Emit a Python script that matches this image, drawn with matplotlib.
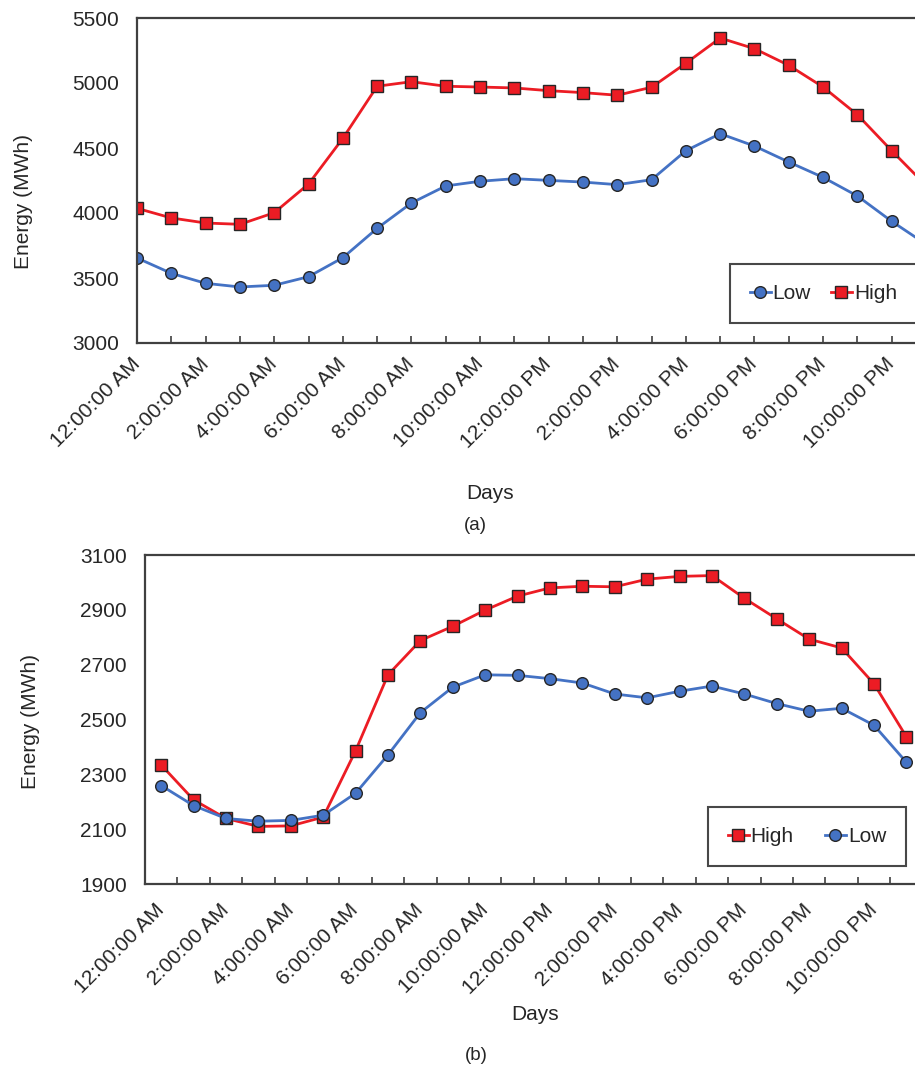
import matplotlib
matplotlib.use("Agg")
import matplotlib.pyplot as plt

plt.rcParams['font.family'] = ['Liberation Sans', 'DejaVu Sans']

# hourly energy, one day
hours = list(range(24))
hour_labels = ['12:00:00 AM', '2:00:00 AM', '4:00:00 AM', '6:00:00 AM',
               '8:00:00 AM', '10:00:00 AM', '12:00:00 PM', '2:00:00 PM',
               '4:00:00 PM', '6:00:00 PM', '8:00:00 PM', '10:00:00 PM']

a_low = [3654, 3536, 3459, 3431, 3444, 3510, 3656, 3882, 4077, 4208,
         4244, 4264, 4251, 4238, 4218, 4256, 4479, 4610, 4515, 4392,
         4274, 4131, 3936, 3760]
a_high = [4036, 3962, 3923, 3913, 4002, 4223, 4574, 4975, 5010, 4975,
          4969, 4962, 4941, 4926, 4906, 4967, 5152, 5346, 5264, 5136,
          4969, 4756, 4479, 4212]

b_high = [2334, 2207, 2139, 2110, 2112, 2144, 2386, 2663, 2788, 2840,
          2899, 2950, 2980, 2986, 2984, 3012, 3022, 3025, 2942, 2867,
          2793, 2761, 2630, 2437]
b_low = [2259, 2186, 2139, 2129, 2132, 2151, 2231, 2371, 2525, 2618,
         2663, 2661, 2649, 2633, 2593, 2579, 2603, 2622, 2593, 2558,
         2530, 2541, 2479, 2344]

W, H = 915, 1069
BLUE = '#4472C4'
RED = '#EC1C24'
TXT = '#262626'
SPINE = '#404040'


def fx(px):
    return px / W


def fy(py):
    return 1 - py / H


def style(ax, xlim, ylim, ystep, xpad):
    ax.set_xlim(xlim)
    ax.set_ylim(ylim)
    ax.set_yticks(range(ylim[0], ylim[1] + 1, ystep))
    for s in ax.spines.values():
        s.set_color(SPINE)
        s.set_linewidth(1.6)
    ax.tick_params(axis='y', length=0, pad=13, labelsize=15, labelcolor=TXT)
    ax.tick_params(axis='x', which='both', direction='in', length=5,
                   width=1.2, color=SPINE, labelsize=15, labelcolor=TXT, pad=xpad)
    for lab in ax.get_xticklabels():
        lab.set_rotation(45)
        lab.set_ha('right')
        lab.set_va('center')
        lab.set_rotation_mode('anchor')


def series(ax, x, y, color, marker, label):
    ax.plot(x, y, color=color, lw=2, marker=marker, ms=8.4,
            mfc=color, mec='#262626', mew=1.0, label=label)


def add_legend(ax, order, x0, y0, colspace):
    h, l = ax.get_legend_handles_labels()
    h = [h[l.index(n)] for n in order]
    leg = ax.legend(h, order, loc='upper left', bbox_to_anchor=(fx(x0), fy(y0)),
                    bbox_transform=ax.figure.transFigure, ncol=2, fontsize=15,
                    handlelength=1.0, handletextpad=0.1, columnspacing=colspace,
                    borderpad=0.95, borderaxespad=0, frameon=True, fancybox=False)
    fr = leg.get_frame()
    fr.set_edgecolor('#1a1a1a')
    fr.set_linewidth(1.5)
    for t in leg.get_texts():
        t.set_color(TXT)


fig = plt.figure(figsize=(W / 100, H / 100), dpi=100)

# (a) plot area runs past the right edge of the figure
ax1 = fig.add_axes([fx(137), fy(343), fx(926 - 137), (343 - 18) / H])
series(ax1, hours, a_low, BLUE, 'o', 'Low')
series(ax1, hours, a_high, RED, 's', 'High')
ax1.set_xticks(hours)
ax1.set_xticklabels([hour_labels[i // 2] if i % 2 == 0 else '' for i in hours])
style(ax1, (0, 23), (3000, 5500), 500, 13)
ax1.set_ylabel('Energy (MWh)', fontsize=15, color=TXT)
ax1.yaxis.set_label_coords(fx(33 - 137) / fx(926 - 137), 0.434)
add_legend(ax1, ['Low', 'High'], 730, 264, 0.95)

fig.text(fx(490), fy(493), 'Days', fontsize=15, color=TXT, ha='center', va='center')
fig.text(fx(475), fy(525), '(a)', fontsize=13.5, color=TXT, ha='center', va='center')

# (b) category axis, ticks between the hours
ax2 = fig.add_axes([fx(145), fy(884), fx(777.6), (884 - 555) / H])
series(ax2, hours, b_high, RED, 's', 'High')
series(ax2, hours, b_low, BLUE, 'o', 'Low')
ax2.set_xticks(hours[::2])
ax2.set_xticklabels(hour_labels)
ax2.set_xticks([h - 0.5 for h in hours] + [23.5], minor=True)
style(ax2, (-0.5, 23.5), (1900, 3100), 200, 16.5)
ax2.tick_params(axis='x', which='major', length=0)
ax2.set_ylabel('Energy (MWh)', fontsize=15, color=TXT)
ax2.yaxis.set_label_coords(fx(40 - 145) / fx(777.6), 0.493)
add_legend(ax2, ['High', 'Low'], 708, 807, 1.5)

fig.text(fx(535), fy(1015), 'Days', fontsize=15, color=TXT, ha='center', va='center')
fig.text(fx(476), fy(1056), '(b)', fontsize=13.5, color=TXT, ha='center', va='center')

fig.savefig('out.png', dpi=100)
